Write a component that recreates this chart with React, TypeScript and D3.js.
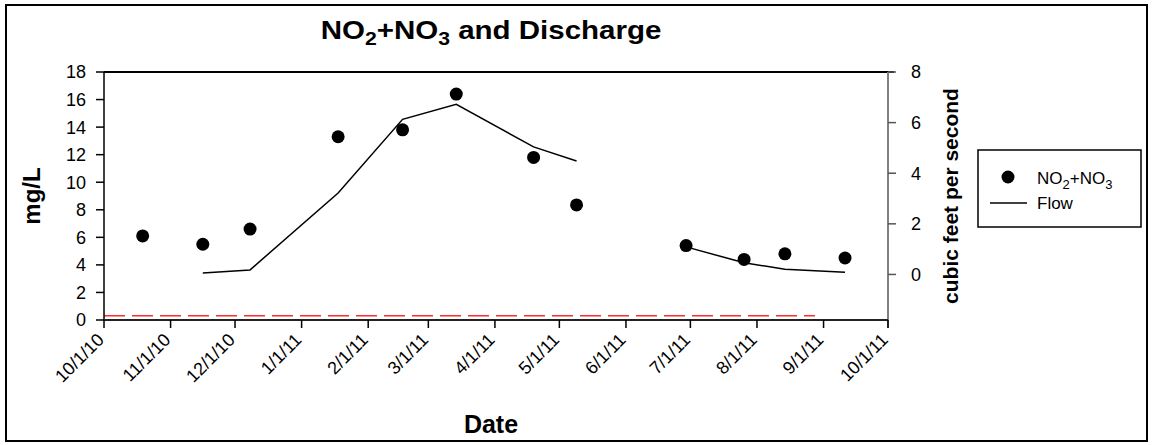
import React from 'react';
import * as d3 from 'd3';

const sampleDates = ['2010-10-19','2010-11-16','2010-12-08','2011-01-18','2011-02-17','2011-03-14','2011-04-19','2011-05-09','2011-06-29','2011-07-26','2011-08-14','2011-09-11'];
const no2no3 = [6.1, 5.5, 6.6, 13.3, 13.8, 16.4, 11.8, 8.35, 5.4, 4.4, 4.8, 4.5];
const flowDates = ['2010-11-16','2010-12-08','2011-01-18','2011-02-17','2011-03-14','2011-04-19','2011-05-09','2011-06-01','2011-06-29','2011-07-26','2011-08-14','2011-09-11'];
const flowCfs: (number | null)[] = [0.06, 0.18, 3.22, 6.13, 6.72, 5.04, 4.48, null, 1.09, 0.46, 0.21, 0.09];
const limitDates = ['2010-10-01', '2011-08-28'];
const limitValue = 0.3;
const xTickDates = ['2010-10-01','2010-11-01','2010-12-01','2011-01-01','2011-02-01','2011-03-01','2011-04-01','2011-05-01','2011-06-01','2011-07-01','2011-08-01','2011-09-01','2011-10-01'];
const xTickLabels = ['10/1/10','11/1/10','12/1/10','1/1/11','2/1/11','3/1/11','4/1/11','5/1/11','6/1/11','7/1/11','8/1/11','9/1/11','10/1/11'];
const leftTicks = [0, 2, 4, 6, 8, 10, 12, 14, 16, 18];
const rightTicks = [0, 2, 4, 6, 8];

const parse = d3.utcParse('%Y-%m-%d');

export default function App() {
  const W = 1153, H = 445;
  const L = 104, R = 888, T = 72, B = 320;
  const x = d3.scaleUtc().domain([parse('2010-10-01')!, parse('2011-10-01')!]).range([L, R]);
  const yL = d3.scaleLinear().domain([0, 18]).range([B, T]);
  const yR = d3.scaleLinear().domain([-1.8, 8]).range([B, T]);
  const font = 'Liberation Sans, Arial, sans-serif';

  const pts = sampleDates.map((d, i) => ({ d: parse(d)!, v: no2no3[i] }));
  const fpts = flowDates.map((d, i) => ({ d: parse(d)!, f: flowCfs[i] }));
  const flowLine = d3.line<any>().defined((p) => p.f != null).x((p) => x(p.d)).y((p) => yR(p.f));
  const limitLine = d3.line<any>().x((p) => x(p.d)).y((p) => yL(p.v));
  const limitPts = limitDates.map((d) => ({ d: parse(d)!, v: limitValue }));

  return (
    <svg width={W} height={H} style={{ display: 'block', position: 'absolute', left: 0, top: 0 }} fontFamily={font}>
      <rect x={0} y={0} width={W} height={H} fill="#fff" />
      <rect x={6} y={5} width={1141} height={436} fill="none" stroke="#000" strokeWidth={2} />
      {/* title */}
      <g transform="translate(491,39) scale(1.18,1)">
        <text x={0} y={0} textAnchor="middle" fontSize={25} fontWeight="bold">
          NO<tspan fontSize={18} dy={6}>2</tspan><tspan dy={-6}>+NO</tspan><tspan fontSize={18} dy={6}>3</tspan><tspan dy={-6}> and Discharge</tspan>
        </text>
      </g>
      {/* top frame line */}
      <line x1={L} x2={R + 6} y1={T} y2={T} stroke="#000" strokeWidth={2} />
      {/* red dashed detection line */}
      <path d={limitLine(limitPts) || ''} fill="none" stroke="#ff2a2a" strokeWidth={1.5} strokeDasharray="21,7" />
      {/* left axis */}
      <line x1={L} x2={L} y1={T} y2={B} stroke="#000" strokeWidth={1.5} />
      {leftTicks.map((t) => (
        <g key={'l' + t}>
          <line x1={L - 8} x2={L} y1={yL(t)} y2={yL(t)} stroke="#000" strokeWidth={1.5} />
          <text x={86} y={yL(t)} dy="0.36em" textAnchor="end" fontSize={18}>{t}</text>
        </g>
      ))}
      {/* right axis */}
      <line x1={R} x2={R} y1={T} y2={B + 8} stroke="#808080" strokeWidth={2} />
      {rightTicks.map((t) => (
        <g key={'r' + t}>
          <line x1={R} x2={R + 8} y1={yR(t)} y2={yR(t)} stroke="#555" strokeWidth={1.5} />
          <text x={911} y={yR(t)} dy="0.36em" textAnchor="start" fontSize={18}>{t}</text>
        </g>
      ))}
      {/* bottom axis */}
      <line x1={L} x2={R} y1={B} y2={B} stroke="#222" strokeWidth={2} />
      {xTickDates.map((d, i) => {
        const xx = x(parse(d)!);
        return (
          <g key={'x' + i}>
            <line x1={xx} x2={xx} y1={B} y2={B + 8} stroke="#000" strokeWidth={1.5} />
            <text transform={`translate(${xx + 1},${B + 21}) rotate(-45)`} textAnchor="end" fontSize={18}>{xTickLabels[i]}</text>
          </g>
        );
      })}
      {/* flow line */}
      <path d={flowLine(fpts) || ''} fill="none" stroke="#000" strokeWidth={1.5} />
      {/* points */}
      {pts.map((p, i) => (
        <circle key={'p' + i} cx={x(p.d)} cy={yL(p.v)} r={6.5} fill="#000" />
      ))}
      {/* axis titles */}
      <text transform={`translate(31,${(T + B) / 2}) rotate(-90)`} textAnchor="middle" dy="0.36em" fontSize={24} fontWeight="bold">mg/L</text>
      <text transform={`translate(950,${(T + B) / 2}) rotate(-90)`} textAnchor="middle" dy="0.36em" fontSize={21} fontWeight="bold">cubic feet per second</text>
      <text x={491} y={433} textAnchor="middle" fontSize={25} fontWeight="bold">Date</text>
      {/* legend */}
      <rect x={978} y={150} width={163} height={77} fill="#fff" stroke="#000" strokeWidth={1.5} />
      <circle cx={1008} cy={177} r={6.5} fill="#000" />
      <text x={1037} y={184} fontSize={17}>NO<tspan fontSize={13} dy={5}>2</tspan><tspan dy={-5}>+NO</tspan><tspan fontSize={13} dy={5}>3</tspan></text>
      <line x1={990} x2={1027} y1={203} y2={203} stroke="#000" strokeWidth={1.5} />
      <text x={1037} y={209} fontSize={17}>Flow</text>
    </svg>
  );
}
